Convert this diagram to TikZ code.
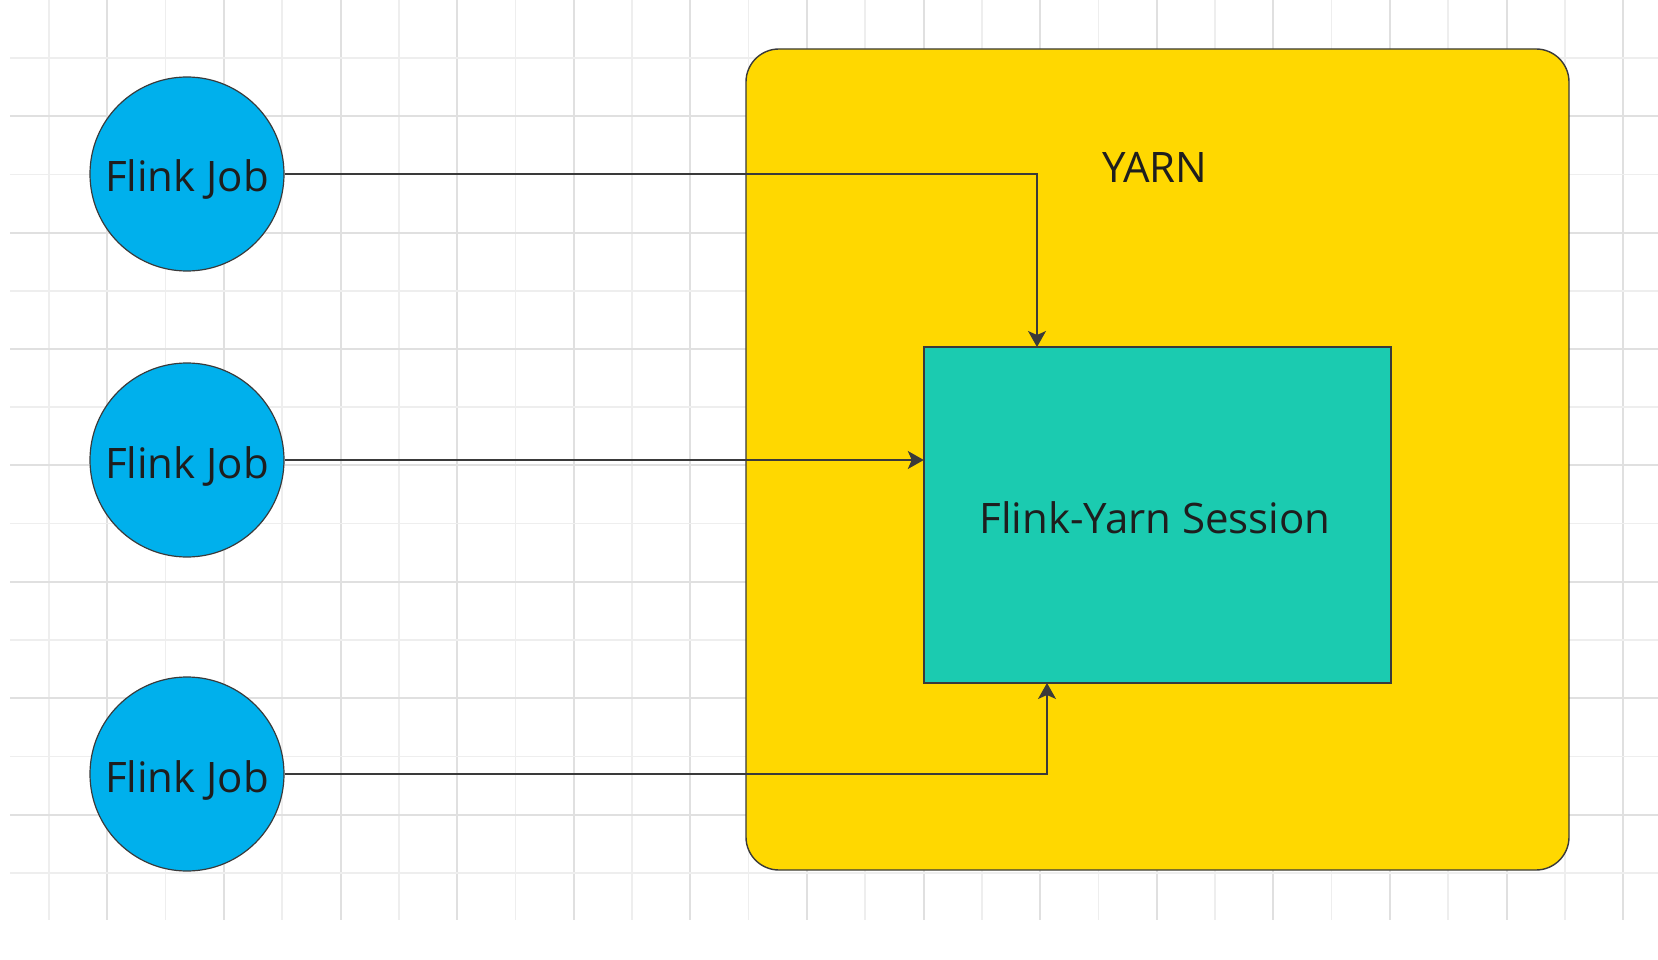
\documentclass[tikz,border=0pt]{standalone}
\usepackage{fontspec}
\setmainfont{Open Sans}
\usetikzlibrary{arrows.meta}
\definecolor{gridA}{HTML}{EEEEEE}
\definecolor{gridB}{HTML}{E0E0E0}
\definecolor{yarnfill}{HTML}{FFD800}
\definecolor{sessfill}{HTML}{1BCBB0}
\definecolor{jobfill}{HTML}{00B0EC}
\definecolor{edge}{HTML}{3A3A3A}
\definecolor{txt}{HTML}{1E1E1E}
\tikzset{
  gridthin/.style={draw=gridA, line width=1.5pt},
  gridthick/.style={draw=gridB, line width=2pt},
  yarnbox/.style={draw=edge, line width=1.4pt, fill=yarnfill, rounded corners=33pt},
  sessbox/.style={draw=edge, line width=1.4pt, fill=sessfill},
  jobnode/.style={circle, draw=edge, line width=1.2pt, fill=jobfill, minimum size=194pt, inner sep=0pt,
    text height=36pt, text depth=0pt, font=\fontsize{42}{48}\selectfont, text=txt},
  lbl/.style={font=\fontsize{42}{48}\selectfont, text=txt, inner sep=0pt, anchor=base},
  conn/.style={draw=edge, line width=1.5pt, -{Stealth[length=16pt, width=18pt, inset=4pt]}}
}
\begin{document}
\begin{tikzpicture}[x=1pt, y=-1pt]
\useasboundingbox (0,0) rectangle (1658,960);
\fill[white] (0,0) rectangle (1658,960);
% grid
\foreach \k in {0,...,27} {
  \pgfmathsetmacro{\gx}{49+58.3*\k}
  \ifodd\k
    \draw[gridthick] (\gx,0) -- (\gx,920);
  \else
    \draw[gridthin] (\gx,0) -- (\gx,920);
  \fi
}
\foreach \k in {0,...,14} {
  \pgfmathsetmacro{\gy}{58+58.2*\k}
  \ifodd\k
    \draw[gridthick] (10,\gy) -- (1658,\gy);
  \else
    \draw[gridthin] (10,\gy) -- (1658,\gy);
  \fi
}
% containers
\path[yarnbox] (746,49) rectangle (1569,870);
\node[lbl] (yarnlbl) at (1155,183) {YARN};
\path[sessbox] (924,347) rectangle (1391,683);
\node[inner sep=0pt, minimum width=467pt, minimum height=336pt] (session) at (1157.5,515) {};
\node[lbl] (sesslbl) at (1155,533) {Flink-Yarn Session};
% jobs
\node[jobnode] (job1) at (187,174) {Flink Job};
\node[jobnode] (job2) at (187,460) {Flink Job};
\node[jobnode] (job3) at (187,774) {Flink Job};
% connectors
\coordinate (t1) at (1037,347);
\coordinate (t3) at (1047,683);
\draw[conn] (job1.east) -| (t1);
\draw[conn] (job2.east) -- (job2.east -| session.west);
\draw[conn] (job3.east) -| (t3);
\end{tikzpicture}
\end{document}
